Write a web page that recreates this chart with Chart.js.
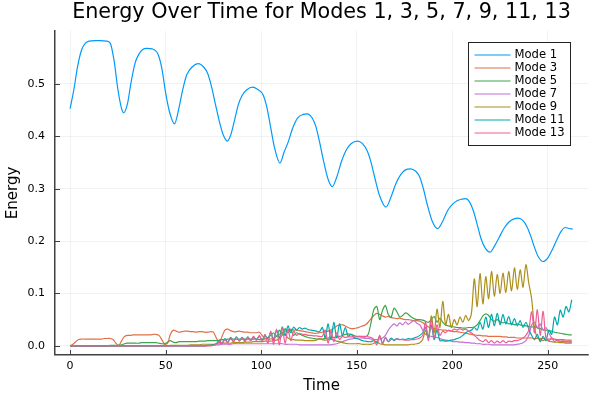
<!DOCTYPE html>
<html>
<head>
<meta charset="utf-8">
<script src="https://cdn.jsdelivr.net/npm/chart.js@4.4.1/dist/chart.umd.min.js"></script>
<style>
  html, body { margin: 0; padding: 0; background: #fff; }
  #wrap { width: 600px; height: 400px; }
</style>
</head>
<body>
<div id="wrap"><canvas id="chart" width="600" height="400"></canvas></div>
<script>
// Values.
const TITLE = "Energy Over Time for Modes 1, 3, 5, 7, 9, 11, 13";
const X_TICKS = [0, 50, 100, 150, 200, 250];
const Y_TICKS = [0, 0.1, 0.2, 0.3, 0.4, 0.5];
const LABELS = ["Mode 1", "Mode 3", "Mode 5", "Mode 7", "Mode 9", "Mode 11", "Mode 13"];
const COLORS = ["#009afa", "#e36f47", "#3ea44e", "#c371d2", "#ac8e18", "#00a9ad", "#ed5e93"];

// Mode 1 is smooth, so it gets its own time grid (includes the peaks and troughs).
const t1 = [0, 2, 4, 6, 8, 10, 13, 16, 19, 21, 23, 25, 27, 28, 30, 32, 34, 36, 38, 40,
  43, 46, 48, 50, 52, 54.6, 57, 59, 61, 64, 67, 70, 72, 74, 76, 78, 80, 82.3, 84, 86,
  88, 90, 92.5, 95.4, 98, 101, 103, 105, 107, 109.8, 112, 114, 116.5, 119, 122, 124, 126.5, 128.5, 130.5, 132.5,
  135, 137.2, 139.5, 142, 144.5, 147, 150.3, 153, 155.5, 157.5, 159.5, 162, 165.3, 168, 170.5, 173, 175.5, 178, 181, 183,
  185, 187, 189.5, 192.3, 195, 197.5, 200, 202.5, 205, 207, 209, 211, 213, 215, 217, 219.7, 222, 224.5, 227, 229.5,
  232, 234.5, 237, 239, 241, 243, 245, 247.5, 250, 252.5, 255, 257, 259, 261, 263];
const mode1 = [0.453, 0.490, 0.535, 0.565, 0.578, 0.582, 0.583, 0.583, 0.582, 0.578, 0.545, 0.490, 0.452, 0.445, 0.462, 0.505, 0.540, 0.557, 0.566, 0.568,
  0.567, 0.557, 0.530, 0.483, 0.447, 0.424, 0.455, 0.490, 0.517, 0.533, 0.539, 0.532, 0.520, 0.495, 0.462, 0.430, 0.404, 0.391, 0.402, 0.430,
  0.460, 0.478, 0.489, 0.494, 0.490, 0.479, 0.455, 0.416, 0.378, 0.349, 0.370, 0.388, 0.416, 0.435, 0.442, 0.443, 0.436, 0.420, 0.390, 0.355,
  0.318, 0.304, 0.322, 0.352, 0.374, 0.386, 0.391, 0.386, 0.372, 0.350, 0.320, 0.286, 0.265, 0.285, 0.310, 0.327, 0.336, 0.338, 0.333, 0.322,
  0.298, 0.268, 0.238, 0.224, 0.238, 0.258, 0.270, 0.277, 0.280, 0.281, 0.275, 0.258, 0.232, 0.205, 0.188, 0.179, 0.190, 0.207, 0.224, 0.236,
  0.242, 0.244, 0.239, 0.228, 0.210, 0.188, 0.170, 0.161, 0.168, 0.185, 0.205, 0.219, 0.226, 0.224, 0.223];

// Shared time grid for the noisy modes.
const t = [0, 1.5, 3, 4.5, 6, 7.5, 9, 10.5, 12, 13.5,
  15, 16.5, 18, 19.5, 21, 22.5, 24, 25.5, 27, 28.5,
  30, 31.5, 33, 34.5, 36, 37.5, 39, 40.5, 42, 43.5,
  45, 46.5, 48, 49.5, 51, 52.5, 54, 55.5, 57, 58.5,
  60, 61.5, 63, 64.5, 66, 67.5, 69, 70.5, 72, 73.5,
  75, 76.5, 78, 79.5, 81, 82.5, 84, 85.5, 87, 88.5,
  90, 91.5, 93, 94.5, 96, 97.5, 99, 100.5, 102, 103.5,
  105, 106.5, 108, 109.5, 111, 112.5, 114, 115.5, 117, 118.5,
  120, 121.5, 123, 124.5, 126, 127.5, 129, 130.5, 132, 133.5,
  135, 136.5, 138, 139.5, 141, 142.5, 144, 145.5, 147, 148.5,
  150, 151.5, 153, 154.5, 156, 157.5, 159, 160.5, 162, 163.5,
  165, 166.5, 168, 169.5, 171, 172.5, 174, 175.5, 177, 178.5,
  180, 181.5, 183, 184.5, 186, 187.5, 189, 190.5, 192, 193.5,
  195, 196.5, 198, 199.5, 201, 202.5, 204, 205.5, 207, 208.5,
  210, 211.5, 213, 214.5, 216, 217.5, 219, 220.5, 222, 223.5,
  225, 226.5, 228, 229.5, 231, 232.5, 234, 235.5, 237, 238.5,
  240, 241.5, 243, 244.5, 246, 247.5, 249, 250.5, 252, 253.5,
  255, 256.5, 258, 259.5, 261, 262.5];

const mode3 = [0, 0.003, 0.008, 0.012, 0.013, 0.013, 0.013, 0.013, 0.013, 0.013,
  0.013, 0.013, 0.014, 0.014, 0.014, 0.012, 0.005, 0.001, 0.010, 0.018,
  0.020, 0.020, 0.021, 0.021, 0.021, 0.021, 0.021, 0.021, 0.021, 0.022,
  0.022, 0.020, 0.012, 0.003, 0.005, 0.022, 0.030, 0.028, 0.026, 0.027,
  0.028, 0.028, 0.027, 0.027, 0.026, 0.027, 0.027, 0.026, 0.026, 0.027,
  0.026, 0.015, 0.006, 0.018, 0.030, 0.032, 0.029, 0.027, 0.027, 0.028,
  0.027, 0.026, 0.026, 0.025, 0.025, 0.025, 0.026, 0.020, 0.014, 0.013,
  0.013, 0.015, 0.018, 0.022, 0.025, 0.028, 0.030, 0.032, 0.030, 0.030,
  0.029, 0.028, 0.027, 0.026, 0.025, 0.024, 0.024, 0.025, 0.026, 0.027,
  0.028, 0.030, 0.034, 0.038, 0.040, 0.040, 0.038, 0.035, 0.033, 0.033,
  0.034, 0.036, 0.038, 0.040, 0.045, 0.052, 0.058, 0.062, 0.060, 0.057,
  0.055, 0.056, 0.054, 0.053, 0.052, 0.053, 0.051, 0.050, 0.050, 0.049,
  0.048, 0.048, 0.047, 0.044, 0.040, 0.036, 0.034, 0.033, 0.032, 0.031,
  0.030, 0.030, 0.029, 0.028, 0.027, 0.027, 0.026, 0.025, 0.024, 0.023,
  0.022, 0.021, 0.020, 0.020, 0.019, 0.019, 0.018, 0.018, 0.018, 0.018,
  0.018, 0.017, 0.017, 0.016, 0.016, 0.016, 0.015, 0.015, 0.015, 0.015,
  0.015, 0.015, 0.014, 0.014, 0.014, 0.014, 0.013, 0.013, 0.013, 0.013,
  0.012, 0.012, 0.012, 0.011, 0.011, 0.011];

const mode5 = [0, 0, 0, 0, 0, 0, 0, 0, 0, 0,
  0, 0, 0, 0, 0.001, 0.001, 0.001, 0.001, 0.002, 0.004,
  0.005, 0.005, 0.005, 0.005, 0.005, 0.006, 0.006, 0.006, 0.006, 0.006,
  0.006, 0.005, 0.004, 0.004, 0.007, 0.010, 0.007, 0.006, 0.008, 0.008,
  0.008, 0.008, 0.008, 0.008, 0.008, 0.009, 0.009, 0.009, 0.010, 0.010,
  0.010, 0.010, 0.011, 0.012, 0.012, 0.013, 0.013, 0.013, 0.013, 0.013,
  0.013, 0.013, 0.013, 0.013, 0.013, 0.013, 0.012, 0.012, 0.013, 0.016,
  0.020, 0.025, 0.018, 0.030, 0.022, 0.033, 0.025, 0.030, 0.020, 0.025,
  0.022, 0.020, 0.018, 0.016, 0.015, 0.014, 0.013, 0.013, 0.013, 0.014,
  0.015, 0.016, 0.016, 0.017, 0.018, 0.020, 0.022, 0.023, 0.022, 0.020,
  0.018, 0.018, 0.017, 0.017, 0.022, 0.045, 0.070, 0.075, 0.050, 0.068,
  0.077, 0.060, 0.055, 0.072, 0.065, 0.055, 0.058, 0.063, 0.060, 0.055,
  0.052, 0.050, 0.050, 0.049, 0.047, 0.045, 0.050, 0.056, 0.045, 0.053,
  0.045, 0.040, 0.038, 0.037, 0.036, 0.035, 0.035, 0.034, 0.034, 0.035,
  0.035, 0.036, 0.040, 0.048, 0.057, 0.061, 0.058, 0.050, 0.047, 0.050,
  0.046, 0.044, 0.045, 0.042, 0.043, 0.040, 0.042, 0.040, 0.039, 0.038,
  0.037, 0.036, 0.036, 0.034, 0.033, 0.031, 0.030, 0.029, 0.028, 0.026,
  0.025, 0.024, 0.023, 0.022, 0.021, 0.021];

const mode7 = [0, 0, 0, 0, 0, 0, 0, 0, 0, 0,
  0, 0, 0, 0, 0, 0, 0, 0, 0, 0,
  0, 0, 0, 0, 0, 0, 0, 0, 0, 0,
  0, 0, 0, 0, 0, 0, 0, 0, 0, 0,
  0, 0, 0, 0, 0, 0, 0, 0, 0.001, 0.001,
  0.001, 0.002, 0.002, 0.003, 0.003, 0.003, 0.003, 0.004, 0.004, 0.004,
  0.004, 0.004, 0.004, 0.004, 0.004, 0.004, 0.004, 0.004, 0.004, 0.004,
  0.004, 0.004, 0.004, 0.004, 0.004, 0.003, 0.003, 0.003, 0.003, 0.003,
  0.002, 0.002, 0.002, 0.002, 0.002, 0.002, 0.002, 0.002, 0.002, 0.002,
  0.002, 0.002, 0.003, 0.004, 0.006, 0.008, 0.010, 0.012, 0.013, 0.014,
  0.014, 0.015, 0.015, 0.014, 0.014, 0.013, 0.012, 0.012, 0.013, 0.015,
  0.020, 0.030, 0.037, 0.042, 0.038, 0.044, 0.040, 0.046, 0.041, 0.045,
  0.048, 0.043, 0.040, 0.030, 0.022, 0.020, 0.018, 0.017, 0.016, 0.014,
  0.012, 0.011, 0.010, 0.009, 0.008, 0.008, 0.007, 0.007, 0.006, 0.006,
  0.005, 0.005, 0.004, 0.004, 0.003, 0.003, 0.003, 0.002, 0.002, 0.002,
  0.002, 0.002, 0.002, 0.002, 0.002, 0.002, 0.003, 0.004, 0.006, 0.010,
  0.020, 0.040, 0.045, 0.035, 0.042, 0.030, 0.035, 0.025, 0.015, 0.012,
  0.010, 0.009, 0.008, 0.008, 0.007, 0.007];

const mode9 = [0, 0, 0, 0, 0, 0, 0, 0, 0, 0,
  0, 0, 0, 0, 0, 0, 0, 0, 0, 0,
  0, 0, 0, 0, 0, 0, 0, 0, 0, 0,
  0, 0, 0, 0, 0, 0.001, 0.001, 0.001, 0.001, 0.001,
  0.001, 0.001, 0.002, 0.002, 0.002, 0.002, 0.003, 0.003, 0.003, 0.003,
  0.003, 0.004, 0.004, 0.005, 0.005, 0.005, 0.005, 0.006, 0.006, 0.006,
  0.006, 0.007, 0.007, 0.007, 0.008, 0.008, 0.008, 0.008, 0.009, 0.009,
  0.009, 0.010, 0.011, 0.013, 0.020, 0.021, 0.015, 0.012, 0.012, 0.011,
  0.011, 0.011, 0.010, 0.010, 0.010, 0.010, 0.011, 0.014, 0.012, 0.011,
  0.012, 0.013, 0.011, 0.009, 0.008, 0.006, 0.005, 0.004, 0.004, 0.004,
  0.004, 0.004, 0.003, 0.003, 0.003, 0.003, 0.005, 0.008, 0.004, 0.003,
  0.002, 0.002, 0.002, 0.002, 0.002, 0.002, 0.002, 0.002, 0.002, 0.003,
  0.003, 0.004, 0.006, 0.012, 0.030, 0.015, 0.057, 0.025, 0.070, 0.035,
  0.085, 0.040, 0.060, 0.035, 0.050, 0.040, 0.055, 0.045, 0.058, 0.048,
  0.062, 0.128, 0.075, 0.138, 0.080, 0.132, 0.090, 0.142, 0.095, 0.136,
  0.100, 0.139, 0.102, 0.142, 0.105, 0.149, 0.108, 0.145, 0.112, 0.155,
  0.120, 0.090, 0.035, 0.015, 0.012, 0.010, 0.012, 0.009, 0.008, 0.007,
  0.007, 0.006, 0.006, 0.005, 0.005, 0.005];

const mode11 = [0, 0, 0, 0, 0, 0, 0, 0, 0, 0,
  0, 0, 0, 0, 0, 0, 0, 0, 0, 0,
  0, 0, 0, 0, 0, 0, 0, 0, 0, 0,
  0, 0, 0, 0, 0, 0, 0, 0, 0, 0,
  0, 0, 0, 0, 0, 0, 0, 0, 0.001, 0.001,
  0.002, 0.004, 0.010, 0.005, 0.014, 0.007, 0.016, 0.008, 0.017, 0.009,
  0.016, 0.010, 0.017, 0.010, 0.016, 0.012, 0.018, 0.012, 0.020, 0.014,
  0.025, 0.012, 0.030, 0.015, 0.036, 0.020, 0.038, 0.025, 0.036, 0.030,
  0.035, 0.032, 0.034, 0.031, 0.030, 0.029, 0.028, 0.027, 0.035, 0.015,
  0.042, 0.012, 0.045, 0.015, 0.042, 0.020, 0.035, 0.018, 0.022, 0.016,
  0.014, 0.012, 0.010, 0.009, 0.008, 0.008, 0.010, 0.006, 0.018, 0.005,
  0.016, 0.008, 0.015, 0.010, 0.014, 0.012, 0.013, 0.012, 0.014, 0.013,
  0.015, 0.017, 0.020, 0.025, 0.035, 0.015, 0.040, 0.012, 0.030, 0.010,
  0.010, 0.009, 0.010, 0.011, 0.012, 0.014, 0.016, 0.020, 0.025, 0.028,
  0.030, 0.035, 0.030, 0.045, 0.032, 0.055, 0.035, 0.060, 0.038, 0.062,
  0.040, 0.060, 0.042, 0.056, 0.040, 0.052, 0.038, 0.048, 0.035, 0.045,
  0.032, 0.020, 0.012, 0.022, 0.008, 0.018, 0.010, 0.030, 0.022, 0.055,
  0.040, 0.068, 0.055, 0.075, 0.065, 0.088];

const mode13 = [0, 0, 0, 0, 0, 0, 0, 0, 0, 0,
  0, 0, 0, 0, 0, 0, 0, 0, 0, 0,
  0, 0, 0, 0, 0, 0, 0, 0, 0, 0,
  0, 0, 0, 0, 0, 0, 0, 0, 0, 0,
  0, 0, 0, 0, 0, 0, 0, 0, 0, 0,
  0.001, 0.003, 0.008, 0.004, 0.012, 0.006, 0.014, 0.008, 0.016, 0.010,
  0.015, 0.008, 0.016, 0.010, 0.018, 0.010, 0.020, 0.008, 0.022, 0.005,
  0.028, 0.003, 0.032, 0.002, 0.035, 0.005, 0.032, 0.010, 0.028, 0.020,
  0.024, 0.022, 0.022, 0.020, 0.020, 0.019, 0.019, 0.018, 0.018, 0.030,
  0.005, 0.028, 0.008, 0.025, 0.012, 0.018, 0.016, 0.017, 0.017, 0.017,
  0.017, 0.018, 0.018, 0.018, 0.017, 0.016, 0.012, 0.002, 0.020, 0.004,
  0.015, 0.008, 0.012, 0.012, 0.013, 0.012, 0.012, 0.011, 0.011, 0.012,
  0.012, 0.013, 0.015, 0.020, 0.045, 0.010, 0.050, 0.015, 0.040, 0.020,
  0.028, 0.025, 0.030, 0.028, 0.032, 0.030, 0.033, 0.030, 0.032, 0.028,
  0.025, 0.020, 0.015, 0.010, 0.008, 0.012, 0.006, 0.010, 0.005, 0.009,
  0.006, 0.010, 0.006, 0.009, 0.008, 0.010, 0.010, 0.012, 0.015, 0.020,
  0.030, 0.065, 0.025, 0.069, 0.020, 0.066, 0.015, 0.010, 0.015, 0.008,
  0.012, 0.008, 0.010, 0.007, 0.009, 0.008];

const FONT = "'DejaVu Sans', sans-serif";
const AXIS_COLOR = "#404040";

function pairs(xs, ys) {
  return xs.map((x, i) => ({ x, y: ys[i] }));
}

const SERIES = [pairs(t1, mode1), pairs(t, mode3), pairs(t, mode5), pairs(t, mode7),
                pairs(t, mode9), pairs(t, mode11), pairs(t, mode13)];

// Plots-style inward tick marks on the left and bottom spines.
const inwardTicks = {
  id: "inwardTicks",
  afterDatasetsDraw(chart) {
    const { ctx, chartArea: a, scales } = chart;
    ctx.save();
    ctx.strokeStyle = AXIS_COLOR;
    ctx.lineWidth = 1;
    ctx.beginPath();
    X_TICKS.forEach((v) => {
      const px = Math.round(scales.x.getPixelForValue(v)) + 0.5;
      ctx.moveTo(px, a.bottom);
      ctx.lineTo(px, a.bottom - 5);
    });
    Y_TICKS.forEach((v) => {
      const py = Math.round(scales.y.getPixelForValue(v)) + 0.5;
      ctx.moveTo(a.left, py);
      ctx.lineTo(a.left + 5, py);
    });
    ctx.stroke();
    ctx.restore();
  },
};

// Boxed legend inside the top-right of the plot area.
const boxLegend = {
  id: "boxLegend",
  afterDraw(chart) {
    const { ctx, chartArea: a } = chart;
    const w = 102, h = 103, rowH = 13;
    const x0 = Math.round(a.right - 18 - w) + 0.5;
    const y0 = Math.round(a.top + 11) + 0.5;
    ctx.save();
    ctx.fillStyle = "#fff";
    ctx.fillRect(x0, y0, w, h);
    ctx.strokeStyle = "#222";
    ctx.lineWidth = 1;
    ctx.strokeRect(x0, y0, w, h);
    ctx.font = "11.6px " + FONT;
    ctx.textBaseline = "middle";
    chart.data.datasets.forEach((ds, i) => {
      const y = y0 + 12.5 + i * rowH;
      ctx.strokeStyle = ds.borderColor;
      ctx.lineWidth = 1.2;
      ctx.beginPath();
      ctx.moveTo(x0 + 6, y);
      ctx.lineTo(x0 + 42, y);
      ctx.stroke();
      ctx.fillStyle = "#000";
      ctx.fillText(ds.label, x0 + 46, y);
    });
    ctx.restore();
  },
};

new Chart(document.getElementById("chart"), {
  type: "line",
  data: {
    datasets: SERIES.map((data, i) => ({
      label: LABELS[i],
      data,
      borderColor: COLORS[i],
      backgroundColor: COLORS[i],
      borderWidth: 1.2,
      pointRadius: 0,
      cubicInterpolationMode: i === 0 ? "monotone" : "default",
      tension: i === 0 ? 0.4 : 0.3,
      fill: false,
      order: LABELS.length - i, // later modes drawn on top, as in the original
    })),
  },
  options: {
    responsive: false,
    animation: false,
    devicePixelRatio: 1,
    layout: { padding: { left: 0, right: 12, top: 0, bottom: 0 } },
    plugins: {
      legend: { display: false },
      tooltip: { enabled: false },
      title: {
        display: true,
        text: TITLE,
        fullSize: false,
        color: "#000",
        font: { family: FONT, size: 20.7, weight: "normal" },
        padding: { top: 0, bottom: 6 },
      },
    },
    scales: {
      x: {
        type: "linear",
        min: -7.9,
        max: 271,
        afterBuildTicks: (s) => { s.ticks = X_TICKS.map((value) => ({ value })); },
        afterFit: (s) => { s.height = 45; },
        ticks: { color: "#000", font: { family: FONT, size: 11 }, padding: 5, maxRotation: 0 },
        grid: { color: "rgba(0,0,0,0.1)", lineWidth: 0.5, drawTicks: false },
        border: { color: AXIS_COLOR, width: 1.5 },
        title: {
          display: true, text: "Time", color: "#000",
          font: { family: FONT, size: 15 }, padding: { top: 2, bottom: 5 },
        },
      },
      y: {
        type: "linear",
        min: -0.0175,
        max: 0.6015,
        afterBuildTicks: (s) => { s.ticks = Y_TICKS.map((value) => ({ value })); },
        afterFit: (s) => { s.width = 55; },
        ticks: {
          color: "#000", font: { family: FONT, size: 11 }, padding: 10,
          callback: (v) => Number(v).toFixed(1),
        },
        grid: { color: "rgba(0,0,0,0.1)", lineWidth: 0.5, drawTicks: false },
        border: { color: AXIS_COLOR, width: 1.5 },
        title: {
          display: true, text: "Energy", color: "#000",
          font: { family: FONT, size: 15 }, padding: { top: 4, bottom: 2 },
        },
      },
    },
  },
  plugins: [inwardTicks, boxLegend],
});
</script>
</body>
</html>
